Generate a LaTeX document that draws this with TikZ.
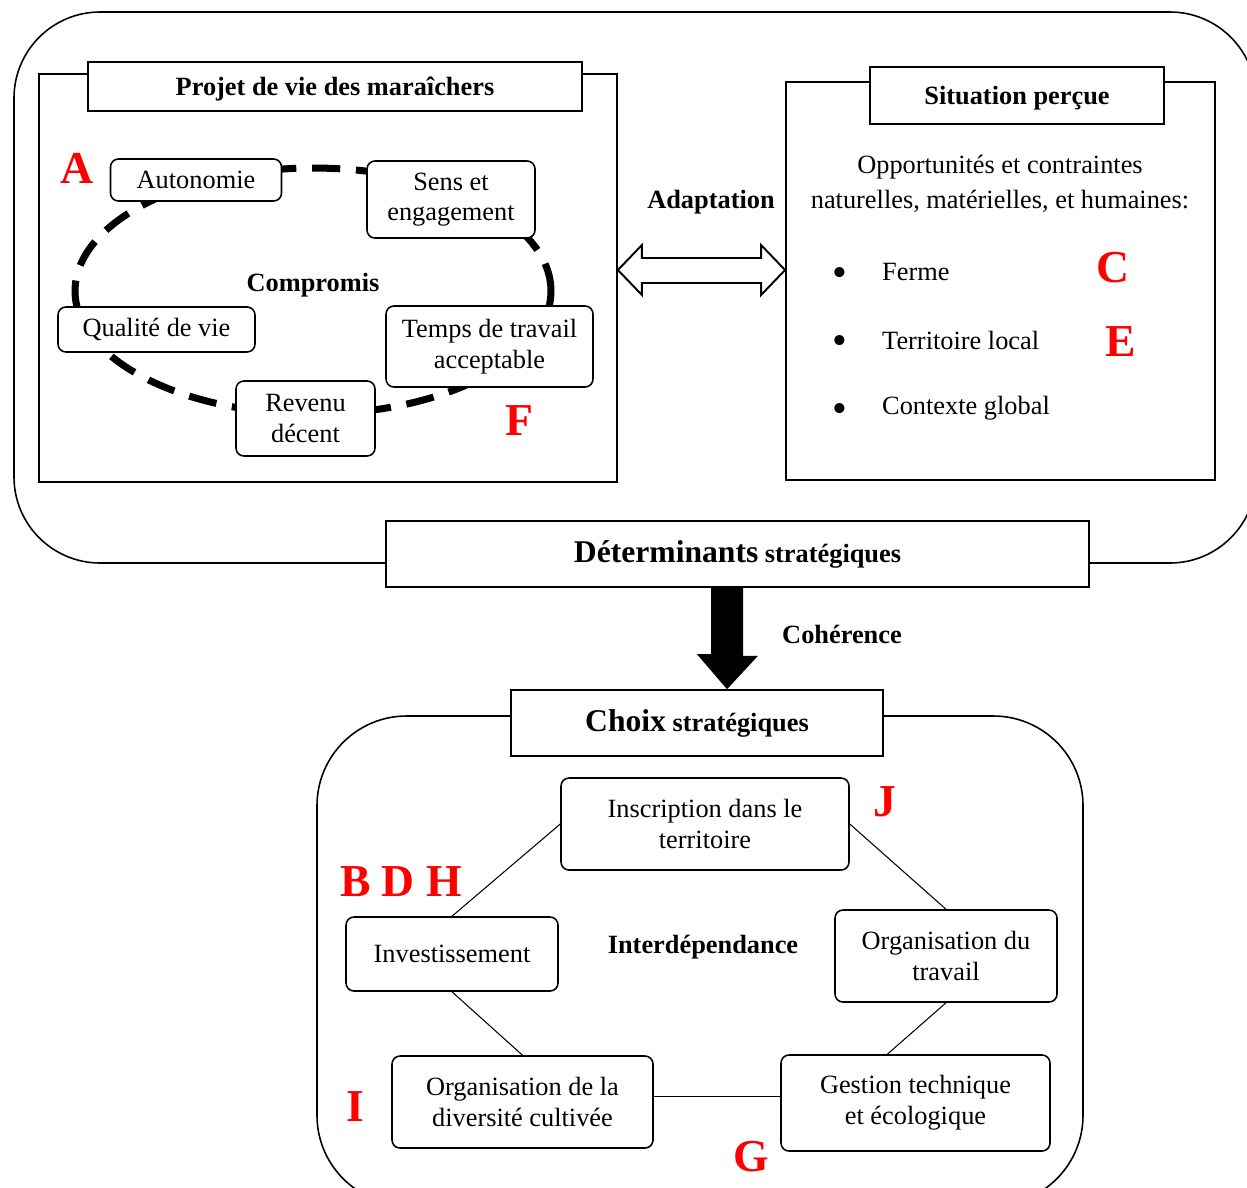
\documentclass[tikz,border=0pt]{standalone}
\usepackage{fontspec}
\setmainfont{Liberation Serif}
\usetikzlibrary{calc}
\begin{document}
\begin{tikzpicture}[x=0.02cm,y=-0.02cm,
    box/.style={draw,rounded corners=4.5pt,fill=white,line width=0.9pt,align=center,inner sep=0pt,font=\fontsize{15}{17.5}\selectfont},
    titre/.style={draw,fill=white,line width=0.9pt,inner sep=0pt,font=\bfseries\fontsize{15}{18}\selectfont},
    cadre/.style={draw,line width=1.1pt,inner sep=0pt},
    lettre/.style={text=red,font=\bfseries\fontsize{26}{26}\selectfont},
    gras/.style={font=\bfseries\fontsize{15}{18}\selectfont},
    texte/.style={font=\fontsize{15}{18}\selectfont},
    puce/.style={font=\fontsize{24}{24}\selectfont},
    lien/.style={line width=0.6pt}]
    \clip (0,0) rectangle (1247,1187);
    %% top frame
    \draw[line width=0.9pt,rounded corners=49pt] (14,12) rectangle (1256,563);
    %% life project
    \node[cadre,minimum width=11.56cm,minimum height=8.16cm] (projet) at (328,278) {};
    \node[titre,minimum width=9.88cm,minimum height=0.98cm,text depth=0pt] (projtit) at (335,86.5) {Projet de vie des maraîchers};
    \draw[line width=4pt,dash pattern=on 16pt off 9pt] (313,291) ellipse [x radius=4.76cm,y radius=2.46cm];
    \node[box,minimum width=3.42cm,minimum height=0.84cm] (auto) at (196,180) {Autonomie};
    \node[box,minimum width=3.36cm,minimum height=1.54cm] (sens) at (451,199.5) {Sens et\\engagement};
    \node[box,minimum width=3.94cm,minimum height=0.9cm] (qual) at (156.5,329.5) {Qualité de vie};
    \node[box,minimum width=4.14cm,minimum height=1.62cm] (temps) at (489.5,346.5) {Temps de travail\\acceptable};
    \node[box,minimum width=2.78cm,minimum height=1.5cm] (revenu) at (305.5,418.5) {Revenu\\décent};
    \node[gras] (compromis) at (313,285) {Compromis};
    \node[lettre] (la) at (77,168) {A};
    \node[lettre] (lf) at (519,421) {F};
    %% perceived situation
    \node[cadre,minimum width=8.58cm,minimum height=7.96cm] (situ) at (1000.5,281) {};
    \node[titre,minimum width=5.88cm,minimum height=1.14cm,text depth=0pt] (situtit) at (1017,95.5) {Situation perçue};
    \node[align=center,font=\fontsize{15}{19.8}\selectfont] (oppo) at (1000,184) {Opportunités et contraintes\\naturelles, matérielles, et humaines:};
    \node[puce] (b1) at (840,277) {•};
    \node[puce] (b2) at (840,345) {•};
    \node[puce] (b3) at (840,413) {•};
    \node[texte,anchor=west] (ferme) at (876,272) {Ferme};
    \node[texte,anchor=west] (terr) at (876,340) {Territoire local};
    \node[texte,anchor=west] (ctx) at (876,408) {Contexte global};
    \node[lettre] (lc) at (1113,268) {C};
    \node[lettre] (le) at (1121,342) {E};
    %% adaptation
    \node[gras] (adapt) at (711,202) {Adaptation};
    \coordinate (ay) at (0,270);
    \draw[line width=1.1pt,fill=white] (projet.east |- ay) -- ++(24,-25) -- ++(0,13)
        -- ($(situ.west |- ay)+(-24,-12)$) -- ++(0,-13) -- (situ.west |- ay)
        -- ++(-24,25) -- ++(0,-12) -- ($(projet.east |- ay)+(24,13)$) -- ++(0,12) -- cycle;
    %% determinants
    \node[titre,minimum width=14.06cm,minimum height=1.32cm] (determ) at (737.5,554) {{\fontsize{18}{20}\selectfont Déterminants} stratégiques};
    %% choices
    \draw[line width=0.9pt,rounded corners=51pt] (317,716) rectangle (1083,1205);
    \node[titre,minimum width=7.44cm,minimum height=1.32cm] (choix) at (697,723) {{\fontsize{18}{20}\selectfont Choix} stratégiques};
    %% coherence
    \coordinate (ax) at (727,0);
    \fill ($(determ.south -| ax)+(-16,0)$) -- ++(32,0) -- ++(0,68) -- ++(15,0)
        -- (choix.north -| ax) -- ++(-30,-35) -- ++(14,0) -- cycle;
    \node[gras] (coher) at (842,634) {Cohérence};
    \node[box,minimum width=5.76cm,minimum height=1.84cm] (inscr) at (705,824) {Inscription dans le\\territoire};
    \node[box,minimum width=4.24cm,minimum height=1.48cm] (invest) at (452,954) {Investissement};
    \node[box,minimum width=4.44cm,minimum height=1.84cm] (orgt) at (946,956) {Organisation du\\travail};
    \node[box,minimum width=5.22cm,minimum height=1.84cm] (div) at (522.5,1102) {Organisation de la\\diversité cultivée};
    \node[box,minimum width=5.38cm,minimum height=1.92cm] (gest) at (915.5,1103) {Gestion technique\\et écologique};
    \node[gras] (interd) at (703,947) {Interdépendance};
    \draw[lien] (inscr.west) -- (invest.north);
    \draw[lien] (inscr.east) -- (orgt.north);
    \draw[lien] (invest.south) -- (div.north);
    \draw[lien] (orgt.south) -- (gest.120);
    \draw[lien] ([yshift=3pt]div.east) -- ([yshift=3pt]div.east -| gest.west);
    \node[lettre] (lj) at (885,802) {J};
    \node[lettre] (lbdh) at (401,882) {B D H};
    \node[lettre] (li) at (355,1107) {I};
    \node[lettre] (lg) at (751,1157) {G};
\end{tikzpicture}
\end{document}
